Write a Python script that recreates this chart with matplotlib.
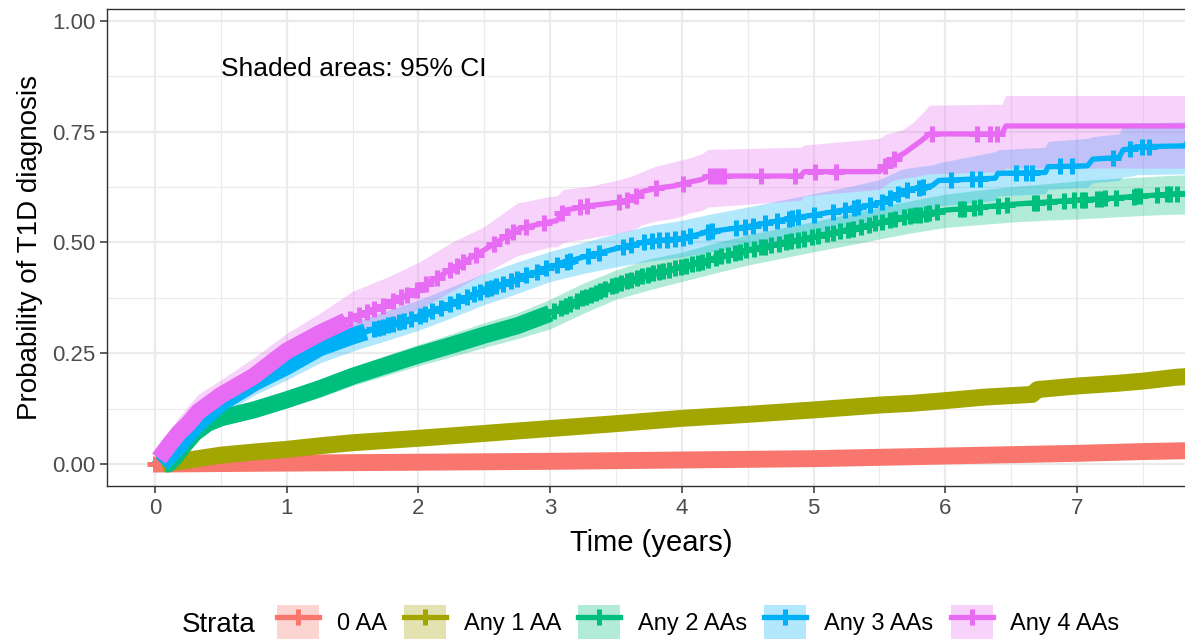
import numpy as np
import matplotlib
matplotlib.use("Agg")
import matplotlib.pyplot as plt
from matplotlib.lines import Line2D
from matplotlib.patches import Patch
from matplotlib.ticker import MultipleLocator, FixedLocator

plt.rcParams['font.family'] = ['Liberation Sans', 'DejaVu Sans']

strata = ["0 AA", "Any 1 AA", "Any 2 AAs", "Any 3 AAs", "Any 4 AAs"]
colors = ["#F8766D", "#A3A500", "#00BF7D", "#00B0F6", "#E76BF3"]

# 0 AA
t_0 = [0, 0.1, 0.5, 1.0, 1.5, 2.0, 2.5, 3.0, 3.5, 4.0, 4.5, 5.0, 5.5, 6.0, 6.5, 7.0, 7.5, 8.0]
y_0 = [0, 0.000, 0.001, 0.002, 0.003, 0.004, 0.005, 0.006, 0.0075, 0.009, 0.0105, 0.012, 0.015,
       0.018, 0.021, 0.024, 0.028, 0.031]
lo_0 = [0, 0, 0.0, 0.001, 0.002, 0.003, 0.004, 0.005, 0.006, 0.007, 0.008, 0.010, 0.012, 0.015,
        0.018, 0.020, 0.023, 0.026]
hi_0 = [0, 0.001, 0.002, 0.003, 0.004, 0.005, 0.006, 0.008, 0.009, 0.011, 0.013, 0.015, 0.018,
        0.021, 0.025, 0.028, 0.033, 0.036]
dense_0 = [(0.02, 8.0)]
cens_0 = [0.0]

# Any 1 AA
t_1 = [0, 0.05, 0.1, 0.2, 0.3, 0.5, 0.75, 1.0, 1.25, 1.5, 2.0, 2.5, 3.0, 3.5, 4.0, 4.5, 5.0, 5.5,
       5.75, 6.0, 6.3, 6.66, 6.7, 7.0, 7.3, 7.5, 7.76, 8.0]
y_1 = [0, 0.0, 0.003, 0.006, 0.011, 0.020, 0.027, 0.033, 0.041, 0.048, 0.058, 0.069, 0.080, 0.091,
       0.103, 0.112, 0.122, 0.133, 0.137, 0.143, 0.151, 0.157, 0.168, 0.176, 0.182, 0.187, 0.196,
       0.200]
lo_1 = [0, 0, 0.001, 0.003, 0.007, 0.015, 0.022, 0.028, 0.035, 0.042, 0.051, 0.061, 0.072, 0.082,
        0.093, 0.102, 0.111, 0.121, 0.125, 0.130, 0.138, 0.143, 0.153, 0.160, 0.165, 0.170, 0.178,
        0.181]
hi_1 = [0, 0.001, 0.005, 0.009, 0.015, 0.025, 0.032, 0.038, 0.047, 0.054, 0.065, 0.077, 0.088, 0.100,
        0.113, 0.122, 0.133, 0.145, 0.149, 0.156, 0.164, 0.171, 0.183, 0.192, 0.199, 0.204, 0.214,
        0.219]
dense_1 = [(0.05, 8.0)]
cens_1 = []

# Any 2 AAs
t_2 = [0, 0.1, 0.15, 0.2, 0.3, 0.4, 0.5, 0.75, 1.0, 1.25, 1.5, 1.75, 2.0, 2.25, 2.5, 2.75, 3.0,
       3.25, 3.5, 3.75, 4.0, 4.25, 4.5, 4.75, 5.0, 5.25, 5.5, 5.75, 6.0, 6.25, 6.5, 6.75, 7.0, 7.25,
       7.5, 7.75, 8.0]
y_2 = [0, 0, 0.015, 0.035, 0.07, 0.092, 0.104, 0.122, 0.145, 0.17, 0.198, 0.222, 0.246, 0.268,
       0.291, 0.312, 0.34, 0.375, 0.405, 0.428, 0.445, 0.465, 0.483, 0.498, 0.513, 0.528, 0.545,
       0.56, 0.573, 0.579, 0.586, 0.591, 0.596, 0.60, 0.605, 0.61, 0.612]
lo_2 = [0, 0, 0.008, 0.025, 0.057, 0.078, 0.089, 0.106, 0.127, 0.150, 0.177, 0.199, 0.222, 0.242,
        0.263, 0.283, 0.305, 0.340, 0.372, 0.393, 0.412, 0.431, 0.449, 0.464, 0.479, 0.493, 0.508,
        0.522, 0.534, 0.540, 0.546, 0.550, 0.553, 0.557, 0.561, 0.564, 0.565]
hi_2 = [0, 0.002, 0.022, 0.045, 0.083, 0.106, 0.119, 0.138, 0.163, 0.19, 0.219, 0.245, 0.27, 0.294,
        0.319, 0.341, 0.372, 0.408, 0.438, 0.463, 0.478, 0.499, 0.517, 0.532, 0.547, 0.563, 0.58,
        0.595, 0.609, 0.618, 0.626, 0.632, 0.639, 0.644, 0.648, 0.652, 0.654]
dense_2 = [(0.08, 3.0)]
cens_2 = [3.03, 3.08, 3.12, 3.15, 3.2, 3.24, 3.27, 3.31, 3.35, 3.38, 3.42, 3.47, 3.5, 3.54, 3.58,
          3.61, 3.66, 3.7, 3.74, 3.78, 3.83, 3.86, 3.9, 3.95, 3.99, 4.03, 4.08, 4.12, 4.15, 4.2,
          4.26, 4.3, 4.35, 4.4, 4.44, 4.49, 4.55, 4.6, 4.63, 4.68, 4.74, 4.79, 4.83, 4.88, 4.93,
          4.99, 5.03, 5.1, 5.15, 5.2, 5.26, 5.3, 5.36, 5.42, 5.47, 5.52, 5.58, 5.62, 5.69, 5.73,
          5.77, 5.81, 5.85, 5.88, 5.94, 6.11, 6.14, 6.22, 6.26, 6.40, 6.47, 6.67, 6.70, 6.79, 6.90,
          6.98, 7.04, 7.06, 7.15, 7.18, 7.21, 7.30, 7.43, 7.45, 7.48, 7.61, 7.68, 7.71, 7.76]

# Any 3 AAs
t_3 = [0, 0.05, 0.1, 0.18, 0.25, 0.33, 0.5, 0.75, 1.0, 1.25, 1.5, 1.75, 2.0, 2.25, 2.5, 2.75, 3.0,
       3.25, 3.5, 3.75, 4.0, 4.2, 4.5, 4.8, 5.0, 5.3, 5.5, 5.66, 5.72, 5.9, 5.95, 6.38, 6.4, 6.76,
       6.78, 7.08, 7.12, 7.32, 7.35, 7.42, 7.45, 7.82, 7.84, 8.0]
y_3 = [0, 0.0, 0.015, 0.04, 0.065, 0.092, 0.137, 0.183, 0.22, 0.262, 0.289, 0.312, 0.333, 0.362,
       0.393, 0.418, 0.445, 0.467, 0.486, 0.503, 0.509, 0.524, 0.536, 0.553, 0.562, 0.577, 0.589,
       0.612, 0.62, 0.628, 0.64, 0.645, 0.656, 0.658, 0.671, 0.673, 0.688, 0.692, 0.709, 0.712,
       0.716, 0.718, 0.727, 0.727]
lo_3 = [0, 0, 0.002, 0.02, 0.04, 0.065, 0.11, 0.155, 0.19, 0.228, 0.255, 0.278, 0.302, 0.33, 0.36,
        0.385, 0.412, 0.43, 0.445, 0.458, 0.467, 0.478, 0.49, 0.505, 0.513, 0.527, 0.536, 0.555,
        0.565, 0.572, 0.582, 0.595, 0.605, 0.61, 0.62, 0.625, 0.635, 0.64, 0.648, 0.65, 0.653,
        0.655, 0.66, 0.66]
hi_3 = [0, 0.005, 0.03, 0.065, 0.09, 0.12, 0.16, 0.21, 0.25, 0.295, 0.32, 0.345, 0.37, 0.4, 0.43,
        0.456, 0.48, 0.5, 0.52, 0.538, 0.55, 0.563, 0.58, 0.598, 0.61, 0.628, 0.642, 0.664, 0.668,
        0.675, 0.68, 0.705, 0.709, 0.715, 0.728, 0.735, 0.739, 0.745, 0.765, 0.768, 0.77, 0.772,
        0.772, 0.772]
dense_3 = [(0.05, 1.6)]
cens_3 = [1.66, 1.7, 1.73, 1.77, 1.81, 1.85, 1.89, 1.94, 2.01, 2.05, 2.1, 2.17, 2.24, 2.3, 2.37,
          2.42, 2.47, 2.52, 2.55, 2.59, 2.64, 2.70, 2.75, 2.82, 2.90, 2.97, 3.05, 3.13, 3.15, 3.29,
          3.37, 3.55, 3.61, 3.71, 3.77, 3.83, 3.89, 3.95, 4.01, 4.06, 4.20, 4.23, 4.41, 4.48, 4.54,
          4.63, 4.72, 4.81, 4.84, 4.88, 5.0, 5.15, 5.24, 5.31, 5.34, 5.43, 5.52, 5.58, 5.64, 5.71,
          5.80, 5.83, 6.04, 6.20, 6.26, 6.54, 6.61, 6.66, 6.87, 6.96, 7.27, 7.40, 7.49, 7.55]

# Any 4 AAs
t_4 = [0, 0.05, 0.1, 0.18, 0.25, 0.33, 0.5, 0.75, 1.0, 1.25, 1.5, 1.75, 2.0, 2.25, 2.5, 2.75, 3.0,
       3.05, 3.1, 3.3, 3.5, 3.62, 3.7, 3.8, 3.95, 4.05, 4.15, 4.2, 4.9, 4.93, 5.5, 5.55, 5.6, 5.68,
       5.75, 5.82, 5.88, 6.43, 6.46, 8.0]
y_4 = [0, 0.02, 0.04, 0.07, 0.09, 0.118, 0.155, 0.198, 0.255, 0.295, 0.33, 0.36, 0.395, 0.44,
       0.483, 0.53, 0.547, 0.549, 0.572, 0.583, 0.59, 0.598, 0.615, 0.622, 0.628, 0.636, 0.642,
       0.65, 0.65, 0.66, 0.66, 0.675, 0.688, 0.70, 0.715, 0.73, 0.745, 0.745, 0.763, 0.763]
lo_4 = [0, 0.0, 0.01, 0.035, 0.05, 0.078, 0.122, 0.16, 0.215, 0.25, 0.29, 0.32, 0.348, 0.39, 0.43,
        0.47, 0.49, 0.49, 0.5, 0.51, 0.52, 0.527, 0.54, 0.548, 0.555, 0.566, 0.572, 0.58, 0.595,
        0.605, 0.62, 0.63, 0.64, 0.645, 0.648, 0.652, 0.655, 0.66, 0.668, 0.668]
hi_4 = [0, 0.045, 0.07, 0.105, 0.13, 0.158, 0.19, 0.24, 0.295, 0.34, 0.39, 0.42, 0.455, 0.50,
        0.536, 0.589, 0.604, 0.605, 0.62, 0.627, 0.64, 0.65, 0.66, 0.672, 0.683, 0.69, 0.70, 0.71,
        0.715, 0.72, 0.735, 0.745, 0.748, 0.755, 0.77, 0.79, 0.81, 0.812, 0.832, 0.832]
dense_4 = [(0.03, 1.45)]
cens_4 = [1.48, 1.55, 1.61, 1.66, 1.73, 1.81, 1.87, 1.91, 1.99, 2.06, 2.14, 2.24, 2.29, 2.34, 2.44,
          2.57, 2.67, 2.72, 2.82, 2.95, 3.09, 3.23, 3.28, 3.52, 3.58, 3.65, 3.80, 4.01, 4.21, 4.25,
          4.29, 4.32, 4.60, 4.86, 5.01, 5.17, 5.54, 5.61, 5.90, 6.24, 6.34, 6.39]

x_ticks = [0, 1, 2, 3, 4, 5, 6, 7]
y_ticks = [0.0, 0.25, 0.5, 0.75, 1.0]
y_ticklabels = ["0.00", "0.25", "0.50", "0.75", "1.00"]

series = [
    (t_0, y_0, lo_0, hi_0, dense_0, cens_0),
    (t_1, y_1, lo_1, hi_1, dense_1, cens_1),
    (t_2, y_2, lo_2, hi_2, dense_2, cens_2),
    (t_3, y_3, lo_3, hi_3, dense_3, cens_3),
    (t_4, y_4, lo_4, hi_4, dense_4, cens_4),
]

W, H = 1185, 641
fig = plt.figure(figsize=(W / 100, H / 100), dpi=100)
# panel runs past the right edge of the picture, as in the reference
ax = fig.add_axes([107 / W, (H - 486) / H, (1230 - 107) / W, 477 / H])
ax.set_xlim(-0.365, -0.365 + 1123 / 131.7)
ax.set_ylim(-0.0497, 1.027)

line_w = 3.8
mark_size = 12.2
mark_w = 3.6

# confidence bands first
for (t, y, lo, hi, dense, cens), col in zip(series, colors):
    ax.fill_between(t, lo, hi, color=col, alpha=0.3, lw=0, zorder=1)

for (t, y, lo, hi, dense, cens), col in zip(series, colors):
    t = np.asarray(t)
    ax.plot(t, y, color=col, lw=line_w, zorder=2)
    # stretches where censoring marks are so dense that they merge into a band
    for a, b in dense:
        inside = t[(t > a) & (t < b)]
        tt = np.concatenate([[a], inside, [b]])
        ax.plot(tt, np.interp(tt, t, y), color=col, lw=mark_size,
                solid_capstyle='butt', zorder=3)
    if len(cens):
        c = np.asarray(cens)
        ax.plot(c, np.interp(c, t, y), ls='none', marker='+', color=col,
                ms=mark_size, mew=mark_w, zorder=3)

ax.text(0.5, 0.892, "Shaded areas: 95% CI", fontsize=19, ha='left', va='center')

# theme_bw look
ax.set_facecolor('white')
for sp in ax.spines.values():
    sp.set_color('#333333')
    sp.set_linewidth(1.0)
ax.xaxis.set_major_locator(FixedLocator(x_ticks))
ax.xaxis.set_minor_locator(MultipleLocator(0.5))
ax.yaxis.set_major_locator(FixedLocator(y_ticks))
ax.set_yticklabels(y_ticklabels)
ax.yaxis.set_minor_locator(FixedLocator([0.125, 0.375, 0.625, 0.875]))
ax.grid(which='major', color='#EBEBEB', lw=1.6)
ax.grid(which='minor', color='#EBEBEB', lw=0.8)
ax.set_axisbelow(True)
ax.tick_params(which='major', length=5, width=1.1, color='#333333', labelsize=16,
               labelcolor='#4D4D4D', pad=3.5)
ax.tick_params(which='minor', length=0)

ax.set_xlabel("Time (years)", fontsize=21)
ax.xaxis.set_label_coords(651 / W, 1 - 543 / H, transform=fig.transFigure)
ax.xaxis.label.set_va('center')
ax.set_ylabel("Probability of T1D diagnosis", fontsize=20)
ax.yaxis.set_label_coords(30 / W, 1 - 247 / H, transform=fig.transFigure)
ax.yaxis.label.set_va('center')

# legend at the bottom
fig.text(182 / W, 1 - 625 / H, "Strata", fontsize=20, ha='left', va='center')
handles = []
for col in colors:
    handles.append((Patch(facecolor=col, alpha=0.3, edgecolor='none'),
                    Line2D([], [], color=col, lw=line_w, marker='+', ms=mark_size, mew=mark_w)))
fig.legend(handles, strata, loc='center left', bbox_to_anchor=(277 / W, 1 - 622 / H),
           ncol=5, frameon=False, fontsize=17, handlelength=1.78, handleheight=1.8,
           handletextpad=0.76, columnspacing=0.72, borderpad=0, borderaxespad=0, numpoints=1)

fig.savefig("out.png", dpi=100)
